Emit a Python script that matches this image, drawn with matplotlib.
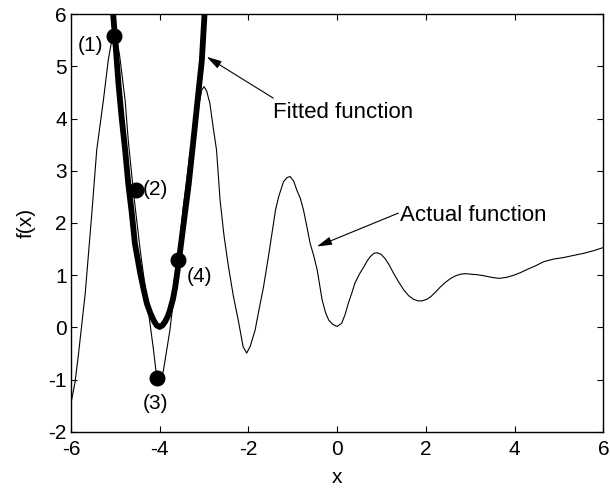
import matplotlib
matplotlib.use("Agg")
import matplotlib.pyplot as plt

# actual function
actual_x = [-6.0, -5.91, -5.83, -5.68, -5.53, -5.42, -5.27, -5.16, -5.06, -4.98,
            -4.90, -4.78, -4.71, -4.59, -4.44, -4.29, -4.14, -4.07, -4.00, -3.92,
            -3.77, -3.62, -3.47, -3.32, -3.16, -3.05, -3.00, -2.94, -2.87, -2.79,
            -2.72, -2.64, -2.55, -2.45, -2.34, -2.23, -2.12, -2.04, -1.96, -1.85,
            -1.76, -1.66, -1.56, -1.47, -1.39, -1.32, -1.21, -1.13, -1.06, -0.98,
            -0.91, -0.83, -0.76, -0.68, -0.61, -0.53, -0.45, -0.34, -0.26, -0.19,
            -0.10, 0.0, 0.10, 0.18, 0.25, 0.33, 0.40, 0.50, 0.60, 0.68,
            0.75, 0.83, 0.90, 0.99, 1.08, 1.17, 1.27, 1.38, 1.50, 1.61,
            1.72, 1.82, 1.92, 2.02, 2.11, 2.22, 2.33, 2.45, 2.56, 2.67,
            2.78, 2.90, 3.01, 3.16, 3.31, 3.48, 3.65, 3.82, 3.98, 4.13,
            4.28, 4.47, 4.66, 4.88, 5.11, 5.33, 5.56, 5.78, 6.0]
actual_y = [-1.45, -1.05, -0.50, 0.65, 2.19, 3.40, 4.35, 5.12, 5.60, 5.60,
            5.18, 4.35, 3.59, 2.57, 1.48, 0.53, -0.43, -0.94, -0.98, -0.84,
            -0.05, 1.04, 2.31, 3.33, 4.10, 4.55, 4.61, 4.52, 4.29, 3.80,
            3.40, 2.44, 1.75, 1.16, 0.60, 0.14, -0.37, -0.49, -0.36, -0.05,
            0.35, 0.78, 1.30, 1.80, 2.25, 2.50, 2.79, 2.87, 2.89, 2.80,
            2.63, 2.47, 2.25, 1.92, 1.61, 1.38, 1.10, 0.53, 0.28, 0.14,
            0.06, 0.02, 0.08, 0.25, 0.46, 0.66, 0.85, 1.02, 1.16, 1.28,
            1.36, 1.42, 1.43, 1.40, 1.32, 1.20, 1.04, 0.88, 0.72, 0.61,
            0.54, 0.51, 0.51, 0.54, 0.59, 0.68, 0.78, 0.87, 0.94, 0.99,
            1.02, 1.03, 1.02, 1.01, 0.99, 0.96, 0.94, 0.96, 1.00, 1.05,
            1.11, 1.18, 1.26, 1.31, 1.34, 1.38, 1.42, 1.47, 1.53]

# fitted function
fitted_x = [-5.05, -5.01, -4.93, -4.86, -4.78, -4.71, -4.63, -4.56, -4.44, -4.36,
            -4.29, -4.21, -4.14, -4.07, -4.00, -3.94, -3.88, -3.82, -3.77, -3.70,
            -3.65, -3.58, -3.47, -3.35, -3.24, -3.13, -3.05, -2.99]
fitted_y = [6.0, 5.57, 4.67, 4.03, 3.40, 2.76, 2.19, 1.61, 1.04, 0.72,
            0.46, 0.27, 0.14, 0.04, 0.01, 0.04, 0.11, 0.21, 0.33, 0.55,
            0.78, 1.20, 1.93, 2.72, 3.59, 4.48, 5.12, 6.0]

# sample points
pts_x = [-5.02, -4.53, -4.06, -3.59]
pts_y = [5.58, 2.64, -0.97, 1.29]
pts_labels = ["(1)", "(2)", "(3)", "(4)"]
label_x = [-5.55, -4.10, -4.09, -3.11]
label_y = [5.39, 2.65, -1.45, 0.97]

x_ticks = [-6, -4, -2, 0, 2, 4, 6]
y_ticks = [-2, -1, 0, 1, 2, 3, 4, 5, 6]


def main() -> None:
    plt.rcParams["font.family"] = ["Liberation Sans", "DejaVu Sans"]
    plt.rcParams["axes.unicode_minus"] = False

    fig = plt.figure(figsize=(6.1, 4.9), dpi=100)
    ax = fig.add_axes([0.1164, 0.1184, 0.8727, 0.853])

    ax.plot(actual_x, actual_y, color="k", lw=0.8)
    ax.plot(fitted_x, fitted_y, color="k", lw=4.2,
            solid_joinstyle="round", solid_capstyle="butt")
    ax.plot(pts_x, pts_y, "o", color="k", ms=10.5)

    for lbl, lx, ly in zip(pts_labels, label_x, label_y):
        ax.text(lx, ly, lbl, fontsize=15, ha="center", va="center")

    arrow = dict(arrowstyle="-|>,head_length=0.9,head_width=0.25",
                 color="k", lw=0.8, shrinkA=0, shrinkB=0)
    ax.annotate("", xy=(-2.94, 5.18), xytext=(-1.44, 4.39), arrowprops=arrow)
    ax.text(-1.44, 4.11, "Fitted function", fontsize=16, ha="left", va="center")
    ax.annotate("", xy=(-0.457, 1.55), xytext=(1.38, 2.19), arrowprops=arrow)
    ax.text(1.42, 2.15, "Actual function", fontsize=16, ha="left", va="center")

    ax.set_xlim(-6, 6)
    ax.set_ylim(-2, 6)
    ax.set_xticks(x_ticks)
    ax.set_yticks(y_ticks)
    ax.tick_params(direction="in", length=4, width=0.8, labelsize=15,
                   top=True, right=True)
    ax.tick_params(axis="x", pad=6)
    ax.tick_params(axis="y", pad=3)
    for s in ax.spines.values():
        s.set_linewidth(1.0)
    ax.set_xlabel("x", fontsize=15, labelpad=6)
    ax.set_ylabel("f(x)", fontsize=15, labelpad=9)

    fig.savefig("out.png", dpi=100)


if __name__ == "__main__":
    main()
